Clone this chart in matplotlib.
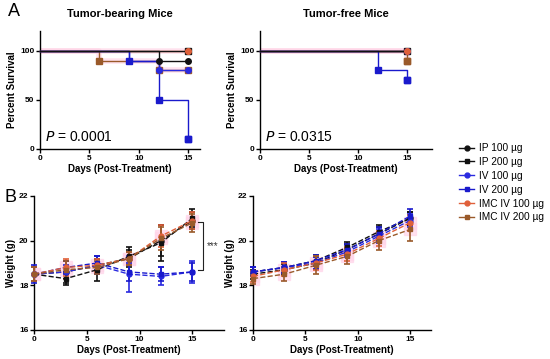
import matplotlib
matplotlib.use("Agg")
import matplotlib.pyplot as plt
import numpy as np
from matplotlib.lines import Line2D

plt.rcParams['font.family'] = ['Liberation Sans', 'DejaVu Sans']

# ---- data ----
groups = ['IP 100 µg', 'IP 200 µg', 'IV 100 µg', 'IV 200 µg', 'IMC IV 100 µg', 'IMC IV 200 µg']
colors = ['#111111', '#111111', '#2a2ae0', '#1a1acc', '#e0603a', '#9a5a2a']
markers = ['o', 's', 'o', 's', 'o', 's']

# survival, tumor-bearing
tb_days = [0, 6, 9, 12, 15]
tb_ip100 = [100, 100, 100, 90, 90]
tb_ip200 = [100, 100, 100, 100, 100]
tb_iv100 = [100, 100, 90, 80, 80]
tb_iv200 = [100, 100, 90, 50, 10]
tb_imc100 = [100, 100, 100, 100, 100]
tb_imc200 = [100, 90, 90, 80, 80]

# survival, tumor-free
tf_days = [0, 12, 15]
tf_ip100 = [100, 100, 100]
tf_ip200 = [100, 100, 100]
tf_iv100 = [100, 100, 100]
tf_iv200 = [100, 80, 70]
tf_imc100 = [100, 100, 100]
tf_imc200 = [100, 100, 90]

# weight
w_days = [0, 3, 6, 9, 12, 15]
wb_ip100 = [18.5, 18.6, 18.9, 19.2, 20.0, 20.9]
wb_ip200 = [18.5, 18.3, 18.7, 19.3, 19.9, 21.0]
wb_iv100 = [18.5, 18.6, 18.9, 18.5, 18.4, 18.6]
wb_iv200 = [18.5, 18.8, 19.0, 18.6, 18.5, 18.6]
wb_imc100 = [18.5, 18.8, 18.9, 19.2, 20.2, 20.9]
wb_imc200 = [18.5, 18.7, 18.8, 19.2, 20.1, 20.8]
eb_ip100 = [0.3, 0.5, 0.4, 0.4, 0.7, 0.4]
eb_ip200 = [0.3, 0.3, 0.5, 0.4, 0.8, 0.4]
eb_iv100 = [0.3, 0.3, 0.4, 0.8, 0.4, 0.5]
eb_iv200 = [0.4, 0.3, 0.3, 0.4, 0.3, 0.4]
eb_imc100 = [0.3, 0.4, 0.3, 0.3, 0.5, 0.4]
eb_imc200 = [0.3, 0.4, 0.3, 0.3, 0.5, 0.4]

wf_ip100 = [18.5, 18.7, 19.0, 19.6, 20.3, 21.0]
wf_ip200 = [18.6, 18.8, 19.1, 19.7, 20.4, 21.0]
wf_iv100 = [18.6, 18.8, 19.0, 19.5, 20.2, 20.9]
wf_iv200 = [18.6, 18.8, 19.1, 19.6, 20.3, 21.1]
wf_imc100 = [18.4, 18.7, 19.0, 19.4, 20.1, 20.8]
wf_imc200 = [18.3, 18.5, 18.9, 19.3, 20.0, 20.5]
ef_ip100 = [0.2, 0.25, 0.25, 0.25, 0.3, 0.3]
ef_ip200 = [0.2, 0.25, 0.25, 0.25, 0.3, 0.3]
ef_iv100 = [0.2, 0.25, 0.25, 0.25, 0.3, 0.3]
ef_iv200 = [0.2, 0.25, 0.25, 0.25, 0.3, 0.3]
ef_imc100 = [0.25, 0.3, 0.3, 0.3, 0.35, 0.35]
ef_imc200 = [0.25, 0.3, 0.4, 0.35, 0.4, 0.5]

fig = plt.figure(figsize=(5.5, 3.59), dpi=100)

# line order: IMC at bottom, black on top
zline = [5, 5.1, 4, 4.1, 3, 3.1]


def style(ax, xmax, ylim, yticks, ylabel):
    ax.set_xlim(0, xmax)
    ax.set_ylim(*ylim)
    ax.set_xticks([0, 5, 10, 15])
    ax.set_yticks(yticks)
    for s in ['top', 'right']:
        ax.spines[s].set_visible(False)
    for s in ['left', 'bottom']:
        ax.spines[s].set_linewidth(1.0)
    ax.tick_params(labelsize=6, length=3, width=1, pad=1)
    for lab in ax.get_xticklabels() + ax.get_yticklabels():
        lab.set_fontweight('bold')
    ax.set_xlabel('Days (Post-Treatment)', fontsize=7, fontweight='bold', labelpad=2)
    ax.set_ylabel(ylabel, fontsize=7, fontweight='bold', labelpad=2)


def survival(ax, days, series, zmark):
    for i, vals in enumerate(series):
        idx = [j for j in range(len(vals)) if j > 0 and vals[j] != vals[j - 1]]
        idx.append(len(vals) - 1)
        if i >= 4:
            ax.plot(days, vals, drawstyle='steps-post', color='#ffd0e4', lw=4, alpha=0.6, zorder=1)
        ax.plot(days, vals, drawstyle='steps-post', color=colors[i], lw=1, zorder=zline[i], clip_on=False)
        ax.plot([days[j] for j in idx], [vals[j] for j in idx], ls='none', color=colors[i],
                marker=markers[i], ms=4, zorder=zmark[i], clip_on=False)


def weight(ax, series, errs):
    for i, (vals, e) in enumerate(zip(series, errs)):
        if i >= 4:
            ax.plot(w_days, vals, ls='none', marker='s', ms=9, color='#ffd6ea', alpha=0.7, zorder=1)
        ax.errorbar(w_days, vals, yerr=e, color=colors[i], ls='--', lw=1, marker=markers[i],
                    ms=3.5, capsize=2.5, elinewidth=1.2, capthick=1.2, clip_on=False, zorder=3)


# A left
ax1 = fig.add_axes([40 / 550, 1 - 149 / 359, 160 / 550, 118 / 359])
survival(ax1, tb_days, [tb_ip100, tb_ip200, tb_iv100, tb_iv200, tb_imc100, tb_imc200],
         [6, 6.1, 8, 8.1, 7, 7.1])
style(ax1, 16.2, (0, 120), [0, 50, 100], 'Percent Survival')
ax1.set_title('Tumor-bearing Mice', fontsize=8, fontweight='bold', pad=10)
ax1.text(0.5, 8, '$\\it{P}$ = 0.0001', fontsize=10)

# A right
ax2 = fig.add_axes([260 / 550, 1 - 149 / 359, 172 / 550, 118 / 359])
survival(ax2, tf_days, [tf_ip100, tf_ip200, tf_iv100, tf_iv200, tf_imc100, tf_imc200],
         [6, 6.1, 7, 7.1, 8, 8.1])
style(ax2, 17.5, (0, 120), [0, 50, 100], 'Percent Survival')
ax2.set_title('Tumor-free Mice', fontsize=8, fontweight='bold', pad=10)
ax2.text(0.5, 8, '$\\it{P}$ = 0.0315', fontsize=10)

# B left
ax3 = fig.add_axes([34 / 550, 1 - 330 / 359, 190 / 550, 134 / 359])
weight(ax3, [wb_ip100, wb_ip200, wb_iv100, wb_iv200, wb_imc100, wb_imc200],
       [eb_ip100, eb_ip200, eb_iv100, eb_iv200, eb_imc100, eb_imc200])
style(ax3, 18, (16, 22), [16, 18, 20, 22], 'Weight (g)')
ax3.plot([15.5, 16.05, 16.05, 15.5], [20.85, 20.85, 18.7, 18.7], color='#222222', lw=0.8, clip_on=False)
ax3.text(16.4, 19.75, '***', fontsize=7, va='center', color='#333333')

# B right
ax4 = fig.add_axes([253 / 550, 1 - 330 / 359, 178 / 550, 134 / 359])
weight(ax4, [wf_ip100, wf_ip200, wf_iv100, wf_iv200, wf_imc100, wf_imc200],
       [ef_ip100, ef_ip200, ef_iv100, ef_iv200, ef_imc100, ef_imc200])
style(ax4, 17, (16, 22), [16, 18, 20, 22], 'Weight (g)')

fig.text(8 / 550, 1 - 12 / 359, 'A', fontsize=13, va='center')
fig.text(5 / 550, 1 - 197 / 359, 'B', fontsize=13, va='center')

handles = [Line2D([0], [0], color=colors[i], marker=markers[i], ms=3.5, lw=1) for i in range(6)]
fig.legend(handles, groups, loc='upper left', bbox_to_anchor=(450 / 550, 1 - 134 / 359),
           frameon=False, fontsize=7.3, handlelength=1.5, labelspacing=0.38, handletextpad=0.5)

fig.savefig('out.png', dpi=100)
